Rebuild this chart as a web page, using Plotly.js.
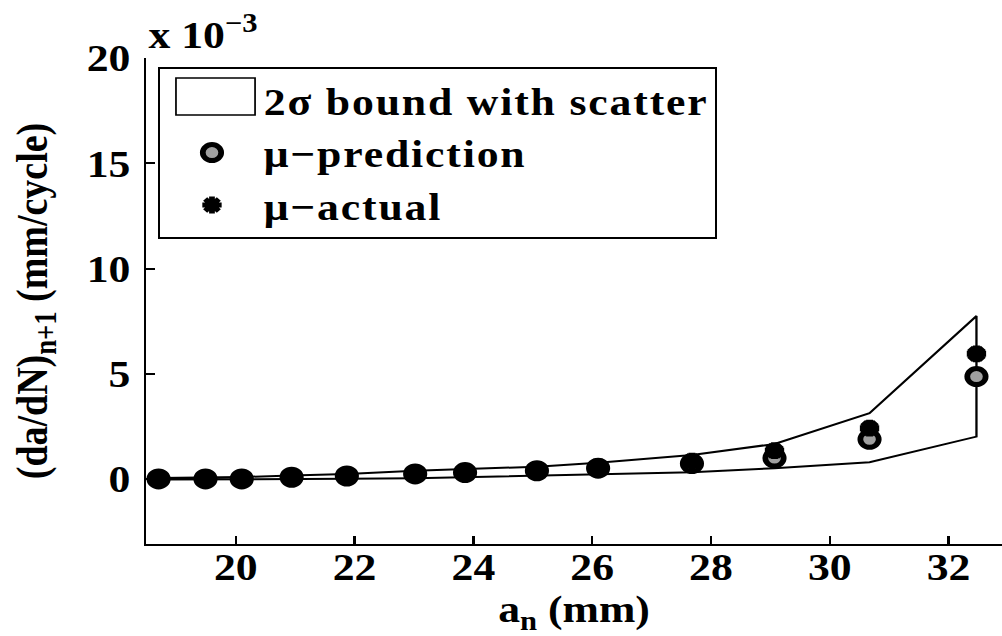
<!DOCTYPE html>
<html><head><meta charset="utf-8">
<script src="https://cdn.plot.ly/plotly-3.0.1.min.js"></script>
<style>
html,body{margin:0;padding:0;overflow:hidden;background:#fff;}
#wrap{width:1002px;height:636px;overflow:hidden;position:relative;}
#plot{width:871px;height:636px;transform:scaleX(1.1504);transform-origin:0 0;}
.legendtext{letter-spacing:1.6px;}
</style></head><body>
<div id="wrap"><div id="plot"></div></div>
<script>
// crack length a_n (mm)
const crackLength = [18.70, 19.49, 20.10, 20.94, 21.87, 23.02, 23.86, 25.07, 26.10, 27.68, 29.07, 30.67, 32.47];
// 2-sigma bound (x 10^-3 mm/cycle)
const upperBound = [0.05, 0.07, 0.10, 0.17, 0.25, 0.40, 0.48, 0.59, 0.78, 1.15, 1.67, 3.13, 7.75];
const lowerBound = [-0.02, -0.01, 0.00, 0.01, 0.02, 0.04, 0.09, 0.15, 0.23, 0.33, 0.52, 0.80, 2.02];
// mean prediction and actual (x 10^-3 mm/cycle)
const muPrediction = [0.01, 0.01, 0.01, 0.09, 0.15, 0.25, 0.31, 0.40, 0.52, 0.74, 1.00, 1.89, 4.87];
const muActual = [0.02, 0.02, 0.03, 0.10, 0.17, 0.28, 0.34, 0.45, 0.60, 0.85, 1.35, 2.42, 5.95];
const xTicks = [20, 22, 24, 26, 28, 30, 32];
const yTicks = [0, 5, 10, 15, 20];

const FONT = {family: '"Liberation Serif", "Times New Roman", Times, serif', size: 38, color: '#000', weight: 'bold'};

const boundX = crackLength.concat(crackLength.slice().reverse());
const boundY = upperBound.concat(lowerBound.slice().reverse());

const traces = [
  {x: boundX, y: boundY, type: 'scatter', mode: 'lines', fill: 'toself', fillcolor: 'rgba(255,255,255,0)',
   line: {color: '#000', width: 0}, name: '2σ bound with scatter'},
  {x: boundX, y: boundY, type: 'scatter', mode: 'lines', showlegend: false,
   line: {color: '#000', width: 2}, name: '2σ bound'},
  {x: crackLength, y: muPrediction, type: 'scatter', mode: 'markers', name: 'μ−prediction',
   marker: {symbol: 'circle', size: 16, color: '#a0a0a0', line: {color: '#000', width: 5}}},
  {x: crackLength, y: muActual, type: 'scatter', mode: 'markers', name: 'μ−actual',
   marker: {symbol: 'asterisk-open', size: 14, color: '#000', line: {color: '#000', width: 6}}}
];

const axisCommon = {
  showgrid: false, zeroline: false, showline: true, linecolor: '#000', linewidth: 2,
  ticks: 'inside', ticklen: 8, tickwidth: 2, tickcolor: '#000', tickfont: FONT, mirror: false
};

const layout = {
  width: 871, height: 636,
  margin: {l: 127, r: 0, t: 58, b: 92},
  paper_bgcolor: '#fff', plot_bgcolor: '#fff',
  showlegend: true,
  legend: {x: 0.0138, y: 0.9815, xanchor: 'left', yanchor: 'top', bgcolor: 'rgba(0,0,0,0)',
           bordercolor: '#000', borderwidth: 2, font: FONT,
           itemwidth: 80, tracegroupgap: 0},
  xaxis: Object.assign({}, axisCommon, {range: [18.49, 32.9], tickvals: xTicks,
           ticklabelstandoff: -12,
           title: {text: 'a<sub>n</sub> (mm)', font: FONT, standoff: 16}}),
  yaxis: Object.assign({}, axisCommon, {range: [-3.08, 20], tickvals: yTicks,
           ticklabelstandoff: 4,
           title: {text: '(da/dN)<sub>n+1</sub> (mm/cycle)', font: FONT, standoff: 22}}),
  shapes: [{type: 'rect', xref: 'paper', yref: 'paper', x0: 0.0349, x1: 0.1273, y0: 0.8827, y1: 0.9588,
            line: {color: '#000', width: 1.5}, fillcolor: 'rgba(0,0,0,0)', layer: 'above'}],
  annotations: [{xref: 'paper', yref: 'paper', x: 0, y: 1, xanchor: 'left', yanchor: 'bottom',
                 xshift: 0, yshift: 0, showarrow: false, text: 'x 10<sup>−3</sup>', font: FONT}]
};

Plotly.newPlot('plot', traces, layout, {staticPlot: true, displayModeBar: false});
</script></body></html>
